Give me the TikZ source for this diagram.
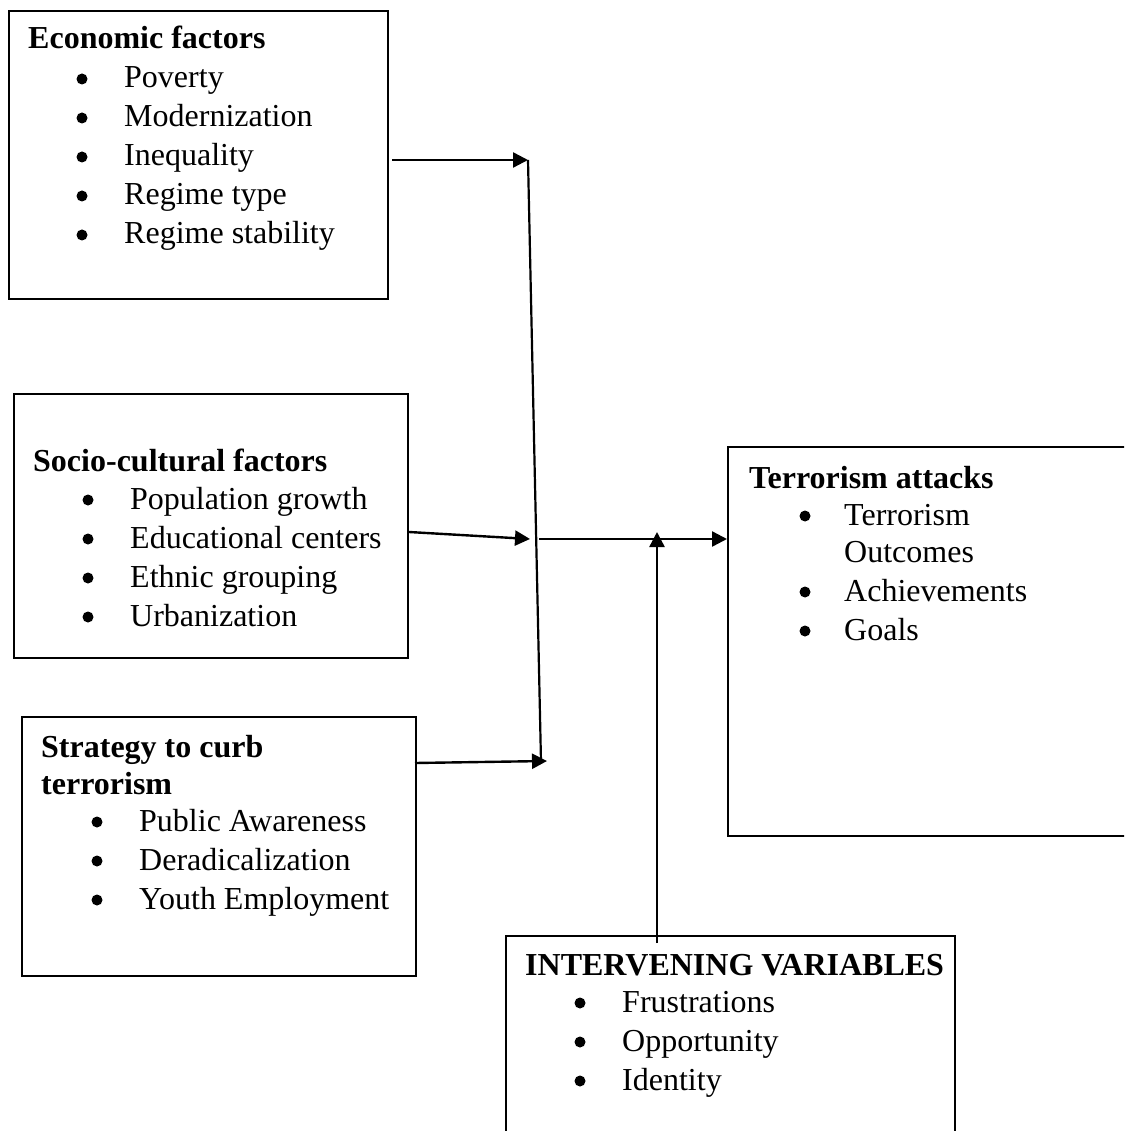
\documentclass[tikz,border=0pt]{standalone}
\usepackage{fontspec}
\setmainfont{Liberation Serif}
\usetikzlibrary{arrows.meta}
\tikzset{
  box/.style={draw=black, line width=2.2pt, rectangle, inner sep=0pt, anchor=north west},
  head/.style={anchor=base west, inner sep=0pt, font=\fontsize{32}{38}\selectfont\bfseries},
  item/.style={anchor=base west, inner sep=0pt, font=\fontsize{32}{38}\selectfont},
  dot/.style={circle, fill=black, inner sep=0pt, minimum size=11pt},
  conn/.style={line width=2.4pt, -{Triangle[length=15pt,width=15pt]}},
  plain/.style={line width=2.2pt}
}
\begin{document}
\begin{tikzpicture}[x=1pt,y=-1pt]
\useasboundingbox (0,0) rectangle (1124,1131);
\clip (0,0) rectangle (1124,1131);
% boxes
\node[box, minimum width=379pt, minimum height=288pt] (eco) at (8,10) {};
\node[box, minimum width=394pt, minimum height=264pt] (soc) at (13,393) {};
\node[box, minimum width=394pt, minimum height=259pt] (str) at (21,716) {};
\node[box, minimum width=402pt, minimum height=389pt] (ter) at (727,446) {};
\node[box, minimum width=449pt, minimum height=200pt] (int) at (505,935) {};
% Economic
\node[head] (ecoh) at (28,49) {Economic factors};
\node[dot] (ecod1) at (82,79) {};
\node[item] (ecoi1) at (124,88) {Poverty};
\node[dot] (ecod2) at (82,118) {};
\node[item] (ecoi2) at (124,127) {Modernization};
\node[dot] (ecod3) at (82,157) {};
\node[item] (ecoi3) at (124,166) {Inequality};
\node[dot] (ecod4) at (82,196) {};
\node[item] (ecoi4) at (124,205) {Regime type};
\node[dot] (ecod5) at (82,235) {};
\node[item] (ecoi5) at (124,244) {Regime stability};
% Socio-cultural
\node[head] (soch) at (33,471) {Socio-cultural factors};
\node[dot] (socd1) at (88,500) {};
\node[item] (soci1) at (130,509) {Population growth};
\node[dot] (socd2) at (88,539) {};
\node[item] (soci2) at (130,548) {Educational centers};
\node[dot] (socd3) at (88,578) {};
\node[item] (soci3) at (130,587) {Ethnic grouping};
\node[dot] (socd4) at (88,617) {};
\node[item] (soci4) at (130,626) {Urbanization};
% Strategy
\node[head] (strh1) at (41,757) {Strategy to curb};
\node[head] (strh2) at (41,794) {terrorism};
\node[dot] (strd1) at (97,822) {};
\node[item] (stri1) at (139,831) {Public Awareness};
\node[dot] (strd2) at (97,861) {};
\node[item] (stri2) at (139,870) {Deradicalization};
\node[dot] (strd3) at (97,900) {};
\node[item] (stri3) at (139,909) {Youth Employment};
% Terrorism attacks
\node[head] (terh) at (749,488) {Terrorism attacks};
\node[dot] (terd1) at (805,516) {};
\node[item] (teri1) at (844,525) {Terrorism};
\node[item] (teri1b) at (844,562) {Outcomes};
\node[dot] (terd2) at (805,592) {};
\node[item] (teri2) at (844,601) {Achievements};
\node[dot] (terd3) at (805,631) {};
\node[item] (teri3) at (844,640) {Goals};
% Intervening
\node[head] (inth) at (525,975) {INTERVENING VARIABLES};
\node[dot] (intd1) at (580,1003) {};
\node[item] (inti1) at (622,1012) {Frustrations};
\node[dot] (intd2) at (580,1042) {};
\node[item] (inti2) at (622,1051) {Opportunity};
\node[dot] (intd3) at (580,1081) {};
\node[item] (inti3) at (622,1090) {Identity};
% connector points
\coordinate (ecoOut) at (392,160);
\coordinate (socOut) at (409,532);
\coordinate (strOut) at (415,763);
\coordinate (jtop) at (528,160);
\coordinate (jmid) at (530,539);
\coordinate (jbot) at (547,761);
\coordinate (jlow) at (541,762);
\coordinate (hubOut) at (539,539);
\coordinate (intTop) at (657,943);
\coordinate (intTip) at (657,532);
% connectors
\draw[conn] (ecoOut) -- (jtop);
\draw[plain] (jtop) -- (jlow);
\draw[conn] (socOut) -- (jmid);
\draw[conn] (strOut) -- (jbot);
\draw[conn] (hubOut) -- (ter.west |- hubOut);
\draw[conn] (intTop) -- (intTip);
\end{tikzpicture}
\end{document}
